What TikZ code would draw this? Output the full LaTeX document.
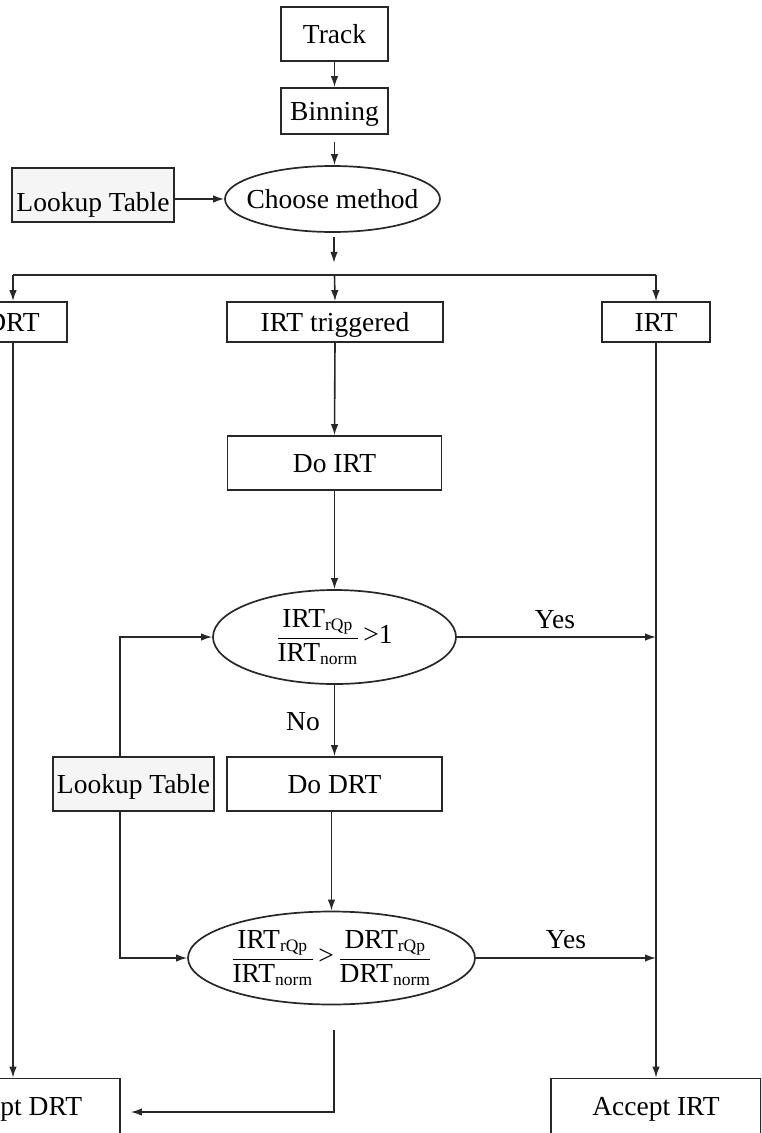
\documentclass[tikz,border=0pt]{standalone}
\usepackage{fontspec}
\setmainfont{Liberation Serif}
\usetikzlibrary{shapes.geometric,arrows.meta}
\newcommand{\ssub}[1]{\mbox{\fontsize{17.5}{17.5}\selectfont #1}}
\newcommand{\rat}[1]{\displaystyle\frac{\mbox{#1}_{\ssub{rQp}}}{\mbox{#1}_{\ssub{norm}}}}
\definecolor{linec}{RGB}{40,40,40}
\definecolor{lutfill}{RGB}{245,245,245}
\tikzset{
  every node/.style={font=\fontsize{27.5}{32}\selectfont, text=black},
  box/.style={draw=linec, line width=1.7pt, rectangle, inner sep=0pt, text height=18pt, text depth=0pt},
  lut/.style={box, fill=lutfill},
  oval/.style={draw=linec, line width=1.7pt, ellipse, inner sep=0pt},
  conn/.style={draw=linec, line width=1.6pt},
  arr/.style={conn, -{Latex[length=11pt,width=7.5pt]}},
  lbl/.style={inner sep=0pt}
}
\begin{document}
\begin{tikzpicture}[x=1pt,y=-1pt]
\useasboundingbox (0,0) rectangle (761,1133);
\clip (0,0) rectangle (761,1133);
\fill[white] (0,0) rectangle (761,1133);
% nodes
\node[box, minimum width=107pt, minimum height=54pt] (track) at (334.5,34) {Track};
\node[box, minimum width=107pt, minimum height=46pt] (binning) at (334.5,111) {Binning};
\node[lut, minimum width=162pt, minimum height=54pt, text height=32pt] (lut1) at (93,195) {Lookup Table};
\node[oval, minimum width=215pt, minimum height=66pt, text height=18pt, text depth=0pt, inner xsep=-14pt] (choose) at (332.5,199) {Choose method};
\node[box, minimum width=108pt, minimum height=40pt] (drt) at (13,322) {DRT};
\node[box, minimum width=216pt, minimum height=40pt] (irttrig) at (335,322) {IRT triggered};
\node[box, minimum width=108pt, minimum height=40pt] (irt) at (656,322) {IRT};
\node[box, minimum width=214pt, minimum height=54pt] (doirt) at (334.5,463) {Do IRT};
\node[oval, minimum width=243pt, minimum height=94pt] (e1) at (334.5,637) {$\rat{IRT}\mbox{\,>1}$};
\node[lut, minimum width=161pt, minimum height=54pt] (lut2) at (133.5,784) {Lookup Table};
\node[box, minimum width=215pt, minimum height=54pt] (dodrt) at (334.5,784) {Do DRT};
\node[oval, minimum width=287pt, minimum height=93pt] (e2) at (331.5,958) {$\rat{IRT}\mbox{\,>\,}\rat{DRT}$};
\node[box, minimum width=214pt, minimum height=55pt] (acdrt) at (13,1106) {Accept DRT};
\node[box, minimum width=210pt, minimum height=55pt] (acirt) at (656,1106) {Accept IRT};
\node[lbl] (yes1) at (555,620) {Yes};
\node[lbl] (no1) at (303,722) {No};
\node[lbl] (yes2) at (566,940) {Yes};
% connectors
\draw[arr] (track.south) -- (binning.north);
\draw[arr] (binning.south |- {(0,142)}) -- (binning.south |- choose.north);
\draw[arr] (lut1.east |- choose.west) -- (choose.west);
\draw[arr] ([shift={(1.5,4)}]choose.south) -- ++(0,26);
\coordinate (split) at (334.5,275);
\draw[conn] (drt.north |- split) -- (irt.north |- split);
\draw[arr] (drt.north |- split) -- (drt.north);
\draw[arr] (split) -- (irttrig.north);
\draw[arr] (irt.north |- split) -- (irt.north);
\draw[arr] (irttrig.south) -- (doirt.north);
\draw[arr] (doirt.south) -- (e1.north);
\draw[arr] (e1.east) -- (irt.south |- e1.east);
\draw[arr] (irt.south) -- (acirt.north);
\draw[arr] (e1.south) -- (dodrt.north);
\draw[arr] ([shift={(-13.5,0)}]lut2.north) |- (e1.west);
\draw[arr] ([shift={(-13.5,0)}]lut2.south) |- (e2.west);
\draw[arr] (e2.north |- dodrt.south) -- (e2.north);
\draw[arr] (e2.east) -- (irt.south |- e2.east);
\draw[arr] ([shift={(2.5,25)}]e2.south) |- ([shift={(10,6)}]acdrt.east);
\draw[arr] (drt.south) -- (acdrt.north);
\end{tikzpicture}
\end{document}
